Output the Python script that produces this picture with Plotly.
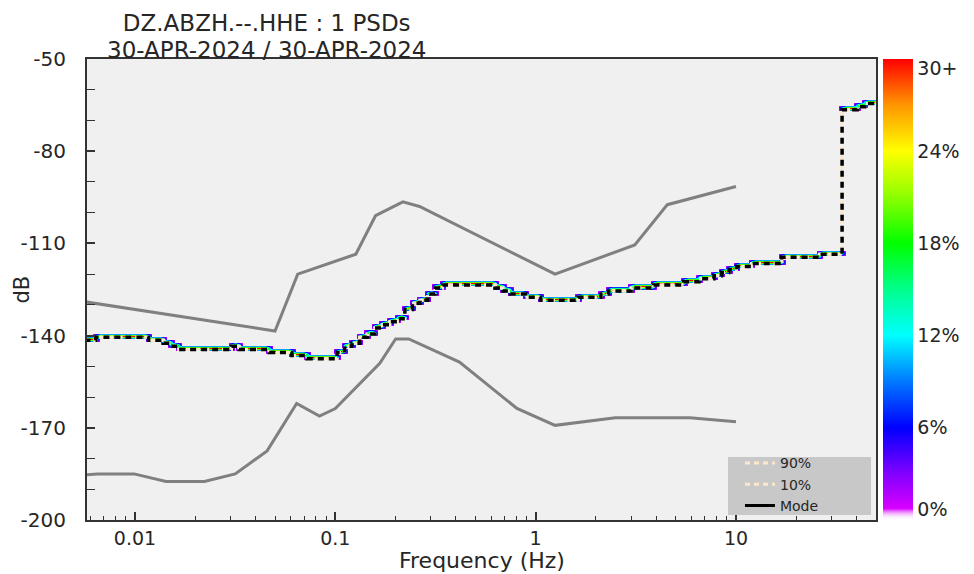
import numpy as np
import plotly.graph_objects as go

title_line1 = "DZ.ABZH.--.HHE : 1 PSDs"
title_line2 = "30-APR-2024 / 30-APR-2024"

# PSD frequency bin centres (Hz), 1/8-octave bins, highest first
freq_bins = [50.0, 45.85, 42.04, 38.56, 35.36, 32.42, 29.73, 27.26,
             25.0, 22.93, 21.02, 19.28, 17.68, 16.21, 14.87, 13.63,
             12.5, 11.46, 10.51, 9.639, 8.839, 8.105, 7.433, 6.816,
             6.25, 5.731, 5.256, 4.819, 4.419, 4.053, 3.716, 3.408,
             3.125, 2.866, 2.628, 2.410, 2.210, 2.026, 1.858, 1.704,
             1.5625, 1.433, 1.314, 1.205, 1.105, 1.013, 0.9291, 0.8520,
             0.78125, 0.7164, 0.6570, 0.6024, 0.5524, 0.5066, 0.4645, 0.4260,
             0.3906, 0.3582, 0.3285, 0.3012, 0.2762, 0.2533, 0.2323, 0.2130,
             0.1953, 0.1791, 0.1642, 0.1506, 0.1381, 0.1266, 0.1161, 0.1065,
             0.09766, 0.08955, 0.08211, 0.07530, 0.06905, 0.06332, 0.05806, 0.05324,
             0.04883, 0.04477, 0.04106, 0.03765, 0.03452, 0.03166, 0.02903, 0.02662,
             0.02441, 0.02239, 0.02053, 0.01882, 0.01726, 0.01583, 0.01452, 0.01331,
             0.01221, 0.01119, 0.01026, 0.009412, 0.008631, 0.007915, 0.007258, 0.006655,
             0.006104, 0.005597]

# Mode of the PSD histogram (dB) for each bin above
mode_db = [-64.5, -64.5, -65.5, -66.5, -66.5,
           -113.5, -113.5, -113.5, -114.5, -114.5,
           -114.5, -114.5, -114.5, -116.5, -116.5,
           -116.5, -116.5, -117.5, -117.5, -118.5,
           -119.5, -120.5, -121.5, -121.5, -122.5,
           -122.5, -123.5, -123.5, -123.5, -123.5,
           -124.5, -124.5, -124.5, -125.5, -125.5,
           -125.5, -126.5, -127.5, -127.5, -127.5,
           -128.5, -128.5, -128.5, -128.5, -128.5,
           -127.5, -127.5, -126.5, -126.5, -125.5,
           -124.5, -123.5, -123.5, -123.5, -123.5,
           -123.5, -123.5, -123.5, -124.5, -126.5,
           -128.5, -129.5, -131.5, -134.5, -135.5,
           -136.5, -137.5, -139.5, -140.5, -142.5,
           -143.5, -145.5, -147.5, -147.5, -147.5,
           -147.5, -146.5, -146.5, -145.5, -145.5,
           -145.5, -144.5, -144.5, -144.5, -144.5,
           -143.5, -144.5, -144.5, -144.5, -144.5,
           -144.5, -144.5, -144.5, -143.5, -142.5,
           -141.5, -141.5, -140.5, -140.5, -140.5,
           -140.5, -140.5, -140.5, -140.5, -141.5,
           -141.5]

# Peterson noise models (frequency Hz, dB)
nhnm_freq = [0.002818, 0.05, 0.0649, 0.1266, 0.1587, 0.2174, 0.2632, 1.25, 3.125, 4.545, 10.0]
nhnm_db = [-126.0, -138.5, -120.0, -113.5, -101.0, -96.5, -98.0, -120.0, -110.5, -97.4, -91.5]
nlnm_freq = [0.002818, 0.00649, 0.0099, 0.01429, 0.02222, 0.03165, 0.04566, 0.0641, 0.08333,
             0.1, 0.1667, 0.2, 0.2326, 0.4167, 0.8065, 1.25, 2.5, 5.882, 10.0]
nlnm_db = [-187.1, -185.0, -185.0, -187.5, -187.5, -185.0, -177.5, -162.1, -166.2,
           -163.75, -149.0, -141.1, -141.1, -148.6, -163.7, -169.2, -166.7, -166.7, -168.0]

y_ticks = [-200, -170, -140, -110, -80, -50]
y_ticklabels = ["-200", "-170", "-140", "-110", "-80", "-50"]
x_ticks = [0.01, 0.1, 1, 10]
x_ticklabels = ["0.01", "0.1", "1", "10"]
cbar_vals = [0.72, 6, 12, 18, 24, 29.4]
cbar_text = ["0%", "6%", "12%", "18%", "24%", "30+"]

# ---- histogram (1 PSD -> 100 % in the mode cell), clipped at 30 for display
freq = np.array(freq_bins[::-1])
mode = np.array(mode_db[::-1])
db_edges = np.arange(-200.0, -49.0, 1.0)
db_centres = (db_edges[:-1] + db_edges[1:]) / 2.0
hist = np.zeros((len(db_centres), len(freq)))
for j, m in enumerate(mode):
    i = int(np.argmin(np.abs(db_centres - m)))
    hist[i, j] = 100.0
zdisp = np.minimum(hist, 30.0)

pqlx = [[0.0, "rgba(255,255,255,0)"], [0.025, "rgba(215,0,255,1)"], [0.1, "rgb(130,0,255)"],
        [0.2, "rgb(0,0,255)"], [0.3, "rgb(0,120,255)"], [0.4, "rgb(0,255,255)"],
        [0.5, "rgb(0,255,140)"], [0.6, "rgb(0,255,0)"], [0.7, "rgb(140,255,0)"],
        [0.8, "rgb(255,255,0)"], [0.9, "rgb(255,150,0)"], [1.0, "rgb(255,0,0)"]]

fig = go.Figure()
# PDF image drawn on the upper bin edges (it sits just above the mode line)
fig.add_trace(go.Heatmap(
    x=freq, y=db_edges[1:], z=zdisp, zmin=0, zmax=30, zsmooth="best",
    colorscale=pqlx, showscale=True, hoverinfo="skip",
    colorbar=dict(x=1.0089, xanchor="left", y=0.5, yanchor="middle", len=1, lenmode="fraction",
                  thickness=30, thicknessmode="pixels", xpad=0, ypad=0, outlinewidth=0,
                  tickvals=cbar_vals, ticktext=cbar_text, ticks="",
                  tickfont=dict(family="DejaVu Sans", size=19, color="#262626")),
))
gray = "#808080"
fig.add_trace(go.Scatter(x=nhnm_freq, y=nhnm_db, mode="lines", line=dict(color=gray, width=3),
                         showlegend=False, hoverinfo="skip"))
fig.add_trace(go.Scatter(x=nlnm_freq, y=nlnm_db, mode="lines", line=dict(color=gray, width=3),
                         showlegend=False, hoverinfo="skip"))
cream = "#fde8cc"
fig.add_trace(go.Scatter(x=freq, y=mode, mode="lines", name="90%", line_shape="hvh",
                         line=dict(color=cream, width=3, dash="5px,4px")))
fig.add_trace(go.Scatter(x=freq, y=mode, mode="lines", name="10%", line_shape="hvh",
                         line=dict(color=cream, width=3, dash="5px,4px")))
fig.add_trace(go.Scatter(x=freq, y=mode, mode="lines", name="Mode", line_shape="hvh",
                         line=dict(color="black", width=3.5, dash="6px,5px"), showlegend=False))
fig.add_trace(go.Scatter(x=[None], y=[None], mode="lines", name="Mode",
                         line=dict(color="black", width=3)))

minor_x = [m * 10.0 ** e for e in range(-3, 2) for m in range(2, 10)]
axis_col = "#333333"
fig.update_xaxes(type="log", range=[np.log10(0.00576), np.log10(50.0)],
                 tickvals=x_ticks, ticktext=x_ticklabels,
                 ticks="inside", ticklen=8, tickwidth=1.5, tickcolor=axis_col,
                 minor=dict(tickvals=minor_x, ticks="inside", ticklen=4, tickwidth=1.2,
                            tickcolor=axis_col, showgrid=False),
                 showgrid=False, zeroline=False, showline=True, mirror=True,
                 linecolor=axis_col, linewidth=2, ticklabelstandoff=0,
                 tickfont=dict(size=19))
fig.update_yaxes(range=[-200, -50], tickvals=y_ticks, ticktext=y_ticklabels,
                 ticks="inside", ticklen=8, tickwidth=1.5, tickcolor=axis_col,
                 minor=dict(tickvals=list(range(-190, -50, 10)), ticks="inside", ticklen=8,
                            tickwidth=1.2, tickcolor=axis_col, showgrid=False),
                 showgrid=False, zeroline=False, showline=True, mirror=True,
                 linecolor=axis_col, linewidth=2, ticklabelstandoff=15,
                 tickfont=dict(size=20))

title_html = ('<span style="font-size:23px">' + title_line1 + '</span><br>'
              '<span style="font-size:23px">' + title_line2 + '</span>')

# the page body has an 8 px margin, so the figure is 8 px smaller and the margins shifted
fig.update_layout(
    width=966, height=566, autosize=False,
    margin=dict(l=79, r=98, t=51, b=54, autoexpand=False),
    paper_bgcolor="white", plot_bgcolor="#f0f0f0",
    font=dict(family="DejaVu Sans", color="#262626", size=18),
    legend=dict(x=0.8276, y=-0.003, xanchor="left", yanchor="bottom",
                bgcolor="rgba(0,0,0,0)", borderwidth=0,
                font=dict(size=14, color="#262626"), tracegroupgap=0),
    shapes=[dict(type="rect", xref="paper", yref="paper", x0=0.8124, x1=0.9937,
                 y0=0.0108, y1=0.1367, fillcolor="#c8c8c8", line=dict(width=0), layer="above")],
    annotations=[
        dict(text=title_html, xref="paper", yref="paper", x=0.2269, y=1.1085,
             xanchor="center", yanchor="top", showarrow=False, borderpad=0,
             font=dict(size=21)),
        dict(text="Frequency (Hz)", xref="paper", yref="paper", x=0.5, y=-0.0873,
             xanchor="center", yanchor="middle", showarrow=False, borderpad=0,
             font=dict(size=22)),
        dict(text="dB", xref="paper", yref="paper", x=-0.0824, y=0.5, textangle=-90,
             xanchor="center", yanchor="middle", showarrow=False, font=dict(size=21)),
    ],
)

fig.write_html("out.html")
